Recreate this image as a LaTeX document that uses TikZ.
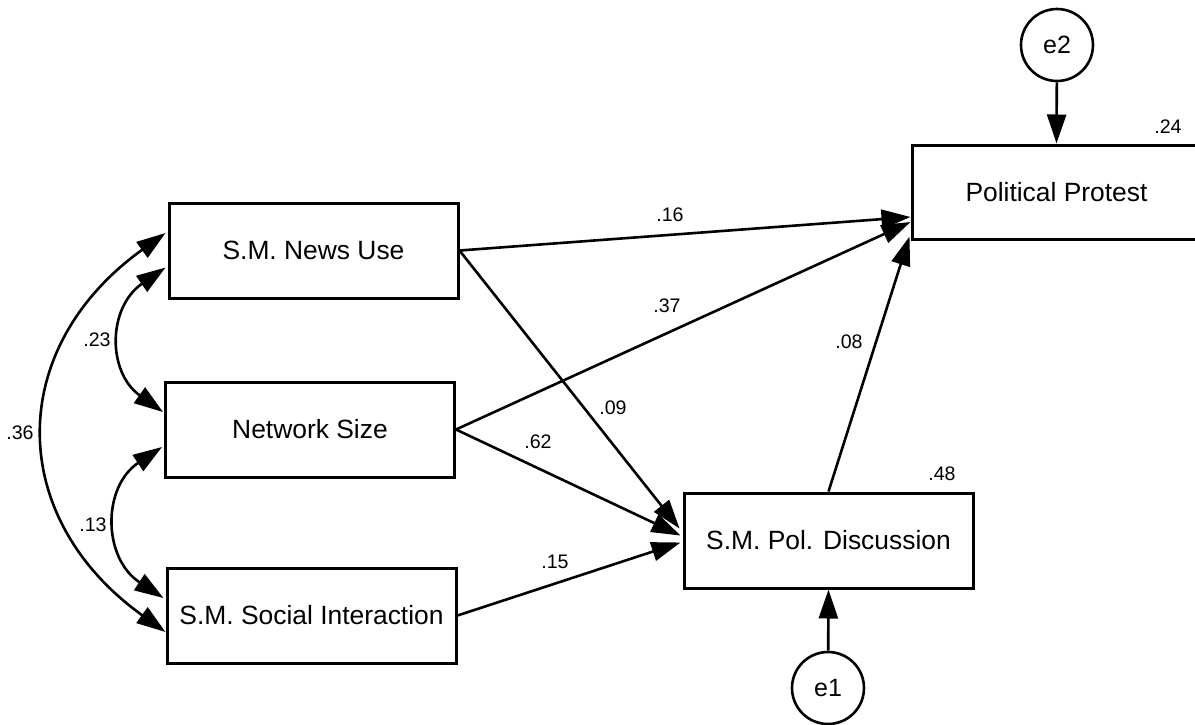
\documentclass[tikz,border=0pt]{standalone}
\usepackage{fontspec}
\setmainfont{Liberation Sans}
\usetikzlibrary{arrows.meta,calc}
\begin{document}
\begin{tikzpicture}[x=0.5pt,y=-0.5pt,
  box/.style={draw,line width=1.5pt,minimum width=144.5pt,minimum height=47.5pt,inner sep=0pt,font=\fontsize{13.2}{15}\selectfont},
  err/.style={draw,circle,line width=1.3pt,minimum size=36pt,inner sep=0pt,font=\fontsize{12.5}{14}\selectfont},
  lab/.style={inner sep=0pt,font=\fontsize{9.8}{12}\selectfont},
  conn/.style={line width=1.3pt,-{Triangle[length=14.5pt,width=9.5pt]}},
  cov/.style={line width=1.3pt,{Triangle[length=14.5pt,width=9.5pt]}-{Triangle[length=14.5pt,width=9.5pt]}}]
\useasboundingbox (0,0) rectangle (1195,724);
\clip (0,0) rectangle (1195,724);
% boxes
\node[box] (nu) at (313.5,250.5) {S.M. News Use};
\node[box] (ns) at (310,429.5) {Network Size};
\node[box] (si) at (311.5,615.5) {S.M. Social Interaction};
\node[box] (pd) at (828.5,540.5) {S.M. Pol. Discussion};
\node[box,minimum height=47pt] (pp) at (1056.5,192) {Political Protest};
\node[err] (e2) at (1057,45) {e2};
\node[err] (e1) at (828,688) {e1};
% paths
\draw[conn] (nu.east) -- ($(pp.west)+(0,25)$);
\draw[conn] (ns.east) -- ($(pp.west)+(0,30)$);
\draw[conn] (pd.north) -- ($(pp.south west)+(-1,-4)$);
\draw[conn] (nu.east) -- ($(pd.west)+(-3,-12)$);
\draw[conn] (ns.east) -- ($(pd.west)+(-2,-5)$);
\draw[conn] (si.east) -- ($(pd.west)+(-2,2)$);
\draw[conn] (e2) -- (pp.north);
\draw[conn] (e1) -- (pd.south);
% covariances
\draw[cov] ($(nu.west)+(-2,17)$) .. controls +(-58,40) and +(-56,-40) .. ($(ns.west)+(-1,-17.5)$);
\draw[cov] ($(ns.west)+(-2,17.5)$) .. controls +(-60,40) and +(-61,-40) .. ($(si.west)+(-2,-17.5)$);
\draw[cov] ($(nu.west)+(-2,-17.5)$) .. controls +(-160,115) and +(-160,-115) .. ($(si.west)+(0,16.5)$);
% labels
\node[lab] (l16) at (670,215) {.16};
\node[lab] (l37) at (667,306) {.37};
\node[lab] (l08) at (849,342) {.08};
\node[lab] (l09) at (613,408) {.09};
\node[lab] (l62) at (538,442) {.62};
\node[lab] (l15) at (555,562) {.15};
\node[lab] (l48) at (942,474) {.48};
\node[lab] (l24) at (1168,127) {.24};
\node[lab] (l23) at (97,340) {.23};
\node[lab] (l36) at (20,433) {.36};
\node[lab] (l13) at (93,525) {.13};
\end{tikzpicture}
\end{document}
